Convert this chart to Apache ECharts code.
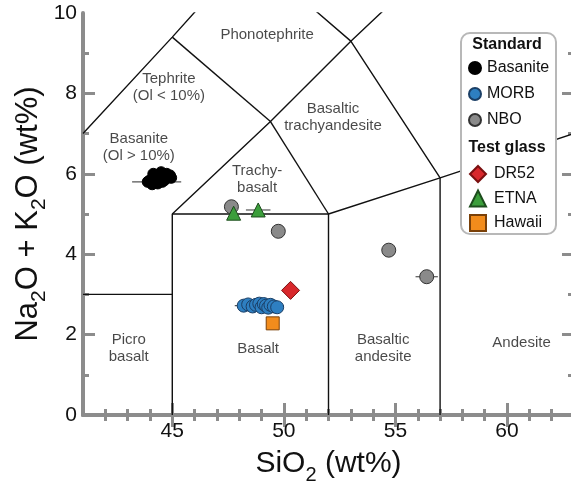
<!DOCTYPE html>
<html><head><meta charset="utf-8">
<script src="https://cdn.jsdelivr.net/npm/echarts@6/dist/echarts.min.js"></script>
<style>html,body{margin:0;padding:0;background:#fff;overflow:hidden}#c{width:571px;height:481px}</style>
</head><body><div id="c"></div>
<script>
// ---- data ----
const xTickLabels = [45, 50, 55, 60];
const yTickLabels = [0, 2, 4, 6, 8, 10];

const basaniteSiO2 = [43.9, 44.0, 44.1, 44.2, 44.25, 44.3, 44.4, 44.45, 44.5, 44.55, 44.6, 44.7, 44.75, 44.8, 44.9, 44.95, 44.35, 44.65, 44.15, 44.5];
const basaniteAlk  = [5.8, 5.84, 5.74, 5.9, 5.78, 5.94, 5.86, 5.99, 5.9, 5.8, 5.97, 5.88, 6.0, 5.92, 5.96, 5.9, 5.76, 5.84, 6.0, 6.04];
const morbSiO2 = [48.2, 48.4, 48.6, 48.75, 48.9, 49.0, 49.1, 49.2, 49.3, 49.4, 49.55, 49.7];
const morbAlk  = [2.72, 2.75, 2.7, 2.74, 2.77, 2.68, 2.76, 2.72, 2.67, 2.74, 2.7, 2.68];
const nboSiO2 = [47.65, 49.75, 54.7, 56.4];
const nboAlk  = [5.18, 4.57, 4.1, 3.44];
const dr52SiO2 = [50.3];
const dr52Alk  = [3.1];
const etnaSiO2 = [47.75, 48.85];
const etnaAlk  = [5.02, 5.1];
const hawaiiSiO2 = [49.5];
const hawaiiAlk  = [2.28];

// horizontal error bars: [SiO2, alkali, ±SiO2]
const errBars = [
  [44.3, 5.8, 1.1],
  [48.9, 2.72, 1.1],
  [56.4, 3.44, 0.5],
  [48.85, 5.1, 0.55]
];

// TAS field boundaries (Le Bas et al., 1986)
const tasLines = [
  [[41, 3], [45, 3]],
  [[45, 0], [45, 5], [52, 5], [57, 5.9], [63, 7]],
  [[52, 0], [52, 5]],
  [[57, 0], [57, 5.9]],
  [[63, 0], [63, 7]],
  [[45, 5], [49.4, 7.3], [53, 9.3], [57.6, 11.7]],
  [[49.4, 7.3], [52, 5]],
  [[41, 7], [45, 9.4], [48.4, 11.5]],
  [[45, 9.4], [49.4, 7.3]],
  [[48.4, 11.5], [53, 9.3], [57, 5.9]]
];

const fieldNames = ['Phonotephrite', 'Tephrite\n(Ol < 10%)', 'Basanite\n(Ol > 10%)', 'Basaltic\ntrachyandesite', 'Trachy-\nbasalt', 'Picro\nbasalt', 'Basalt', 'Basaltic\nandesite', 'Andesite'];
const fieldX = [49.25, 44.85, 43.5, 52.2, 48.8, 43.05, 48.85, 54.45, 60.65];
const fieldY = [9.45, 8.15, 6.65, 7.4, 5.85, 1.65, 1.65, 1.65, 1.8];

// ---- chart ----
const FONT = 'Liberation Sans, Arial, Helvetica, sans-serif';
const AX = '#8c8c8c';
const zip = (a, b) => a.map((v, i) => [v, b[i]]);
const ints = [];
for (let v = 42; v <= 62; v++) ints.push(v);
const richX = {
  a: { fontSize: 30, fontFamily: FONT, color: '#111' },
  s: { fontSize: 20, fontFamily: FONT, color: '#111', padding: [22, 0, 0, 0] }
};
const richY = {
  a: { fontSize: 31, fontFamily: FONT, color: '#111' },
  s: { fontSize: 21, fontFamily: FONT, color: '#111', padding: [22, 0, 0, 0] }
};

function xAx(pos, major, showLine, showLabel, name) {
  return {
    type: 'value', position: pos, min: 41, max: 63, interval: 1,
    axisLine: { show: showLine, lineStyle: { color: AX, width: 4 } },
    axisTick: { show: true, inside: true, length: major ? 12 : 6, lineStyle: { color: AX, width: 3 },
      customValues: major ? xTickLabels : ints },
    axisLabel: showLabel ? { show: true, customValues: xTickLabels, fontSize: 21, color: '#111', fontFamily: FONT, margin: 6 } : { show: false },
    splitLine: { show: false },
    name: name || '', nameLocation: 'middle', nameGap: 28, nameMoveOverlap: false,
    nameTextStyle: { fontFamily: FONT, color: '#111', rich: richX }
  };
}
const yInts = [1, 2, 3, 4, 5, 6, 7, 8, 9];
function yAx(pos, major, showLine, showLabel, name) {
  return {
    type: 'value', position: pos, min: 0, max: 10, interval: 1,
    axisLine: { show: showLine, lineStyle: { color: AX, width: 4 } },
    axisTick: { show: true, inside: true, length: major ? 12 : 6, lineStyle: { color: AX, width: 3 },
      customValues: major ? [2, 4, 6, 8] : yInts },
    axisLabel: showLabel ? { show: true, customValues: yTickLabels, fontSize: 21, color: '#111', fontFamily: FONT, margin: 6 } : { show: false },
    splitLine: { show: false },
    name: name || '', nameLocation: 'middle', nameGap: 33, nameMoveOverlap: false,
    nameTextStyle: { fontFamily: FONT, color: '#111', rich: richY }
  };
}

const scat = (name, data, symbol, size, color, border, z) => ({
  name, type: 'scatter', data, symbol, symbolSize: size, z: z || 3,
  itemStyle: { color, borderColor: border, borderWidth: 1, opacity: 1 },
  emphasis: { disabled: true }
});

const option = {
  animation: false,
  backgroundColor: '#fff',
  grid: { left: 83, width: 491, top: 13, bottom: 66, outerBoundsMode: 'none', containLabel: false },
  xAxis: [
    xAx('bottom', false, true, true, '{a|SiO}{s|2}{a| (wt%)}'),
    xAx('bottom', true, false, false),
    xAx('top', false, true, false),
    xAx('top', true, false, false)
  ],
  yAxis: [
    yAx('left', false, true, true, '{a|Na}{s|2}{a|O + K}{s|2}{a|O (wt%)}'),
    yAx('left', true, false, false),
    yAx('right', false, true, false),
    yAx('right', true, false, false)
  ],
  legend: [
    { data: ['Basanite', 'MORB', 'NBO'], orient: 'vertical', left: 468, top: 60, padding: 0, itemGap: 10, itemWidth: 12, itemHeight: 12,
      textStyle: { fontSize: 16, fontFamily: FONT, color: '#111', padding: [0, 0, 0, 1] }, z: 20, selectedMode: false },
    { data: ['DR52', 'ETNA', 'Hawaii'], orient: 'vertical', left: 469, top: 165, padding: 0, itemGap: 6.5, itemWidth: 16, itemHeight: 16,
      textStyle: { fontSize: 16, fontFamily: FONT, color: '#111', padding: [0, 0, 0, 3] }, z: 20, selectedMode: false }
  ],
  graphic: [
    { type: 'rect', z: 10, shape: { x: 461, y: 33, width: 95, height: 201, r: 9 }, style: { fill: '#fff', stroke: '#b8b8b8', lineWidth: 2 } },
    { type: 'text', z: 20, style: { text: 'Standard', x: 507, y: 45, align: 'center', verticalAlign: 'middle', font: 'bold 16px ' + FONT, fill: '#111' } },
    { type: 'text', z: 20, style: { text: 'Test glass', x: 507, y: 148, align: 'center', verticalAlign: 'middle', font: 'bold 16px ' + FONT, fill: '#111' } }
  ],
  series: [
    ...tasLines.map(seg => ({
      type: 'line', data: seg, symbol: 'none', silent: true, clip: true, z: 1,
      lineStyle: { color: '#111', width: 1.4 }
    })),
    {
      type: 'scatter', silent: true, z: 1, symbolSize: 0,
      data: fieldNames.map((n, i) => ({ name: n, value: [fieldX[i], fieldY[i]] })),
      label: { show: true, position: 'inside', formatter: p => p.name, fontSize: 15, lineHeight: 17, fontFamily: FONT, color: '#1a1a1a', align: 'center' }
    },
    {
      type: 'custom', silent: true, z: 2, data: errBars,
      encode: { x: 0, y: 1 },
      renderItem: (params, api) => {
        const x = api.value(0), y = api.value(1), e = api.value(2);
        const p1 = api.coord([x - e, y]), p2 = api.coord([x + e, y]);
        return { type: 'line', shape: { x1: p1[0], y1: p1[1], x2: p2[0], y2: p2[1] }, style: { stroke: '#555', lineWidth: 1.2 } };
      }
    },
    scat('Basanite', zip(basaniteSiO2, basaniteAlk), 'circle', 11, '#000', '#000'),
    scat('MORB', zip(morbSiO2, morbAlk), 'circle', 13, '#2e7fc1', '#1b3f66'),
    scat('NBO', zip(nboSiO2, nboAlk), 'circle', 14, '#8a8a8a', '#333'),
    scat('DR52', zip(dr52SiO2, dr52Alk), 'diamond', 18, '#d8282c', '#7a1010'),
    scat('ETNA', zip(etnaSiO2, etnaAlk), 'triangle', 14, '#3b9e3b', '#1d4d1d'),
    scat('Hawaii', zip(hawaiiSiO2, hawaiiAlk), 'rect', 13, '#f28c1c', '#7a4008')
  ]
};
const chart = echarts.init(document.getElementById('c'), null, { renderer: 'canvas' });
chart.setOption(option);
</script></body></html>
